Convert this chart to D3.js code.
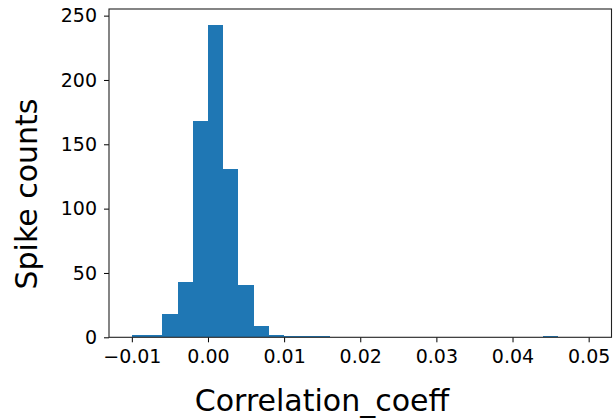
<!DOCTYPE html>
<html>
<head>
<meta charset="utf-8">
<script src="https://cdn.jsdelivr.net/npm/d3@7"></script>
<style>
  body { margin: 0; background: #fff; }
  svg { display: block; }
  text { font-family: "DejaVu Sans", sans-serif; fill: #000; }
</style>
</head>
<body>
<svg id="chart"></svg>
<script>
// histogram bin edges (left) and spike counts per bin
var binWidth = 0.002;
var binStarts = [-0.010, -0.008, -0.006, -0.004, -0.002, 0.000, 0.002, 0.004, 0.006, 0.008,
                 0.010, 0.012, 0.014, 0.016, 0.018, 0.020, 0.022, 0.024, 0.026, 0.028,
                 0.030, 0.032, 0.034, 0.036, 0.038, 0.040, 0.042, 0.044, 0.046, 0.048];
var counts = [2, 2, 18, 43, 168, 243, 131, 41, 9, 2,
              1, 1, 1, 0, 0, 0, 0, 0, 0, 0,
              0, 0, 0, 0, 0, 0, 0, 1, 0, 0];
var xTicks = [-0.01, 0.00, 0.01, 0.02, 0.03, 0.04, 0.05];
var yTicks = [0, 50, 100, 150, 200, 250];
var xLabel = "Correlation_coeff";
var yLabel = "Spike counts";

var width = 613;
var height = 419;
var margin = {top: 9, right: 1.5, bottom: 81.7, left: 109};

var svg = d3.select('#chart').attr('width', width).attr('height', height);

var bins = binStarts.map(function (s, i) { return {x0: s, x1: s + binWidth, count: counts[i]} });

// matplotlib-like 5% margins on x, top only on y
var xMin = d3.min(bins, function (b) { return b.x0 });
var xMax = d3.max(bins, function (b) { return b.x1 });
var pad = (xMax - xMin) * 0.05;
var x = d3.scaleLinear()
  .domain([xMin - pad, xMax + pad])
  .range([margin.left, width - margin.right]);

var yMax = d3.max(counts) * 1.05;
var y = d3.scaleLinear()
  .domain([0, yMax])
  .range([height - margin.bottom, margin.top]);

svg.append('g')
  .attr('shape-rendering', 'crispEdges')
  .selectAll('rect')
  .data(bins.filter(function (b) { return b.count > 0 }))
  .enter().append('rect')
    .attr('x', function (b) { return x(b.x0) })
    .attr('width', function (b) { return x(b.x1) - x(b.x0) })
    .attr('y', function (b) { return y(b.count) })
    .attr('height', function (b) { return y(0) - y(b.count) })
    .attr('fill', '#1f77b4')

var fmt = function (d) { return d3.format('.2f')(d).replace('-', '\u2212') };

var xAxis = svg.append('g')
  .attr('transform', 'translate(0,' + y(0) + ')')
  .call(d3.axisBottom(x).tickValues(xTicks).tickFormat(fmt).tickSize(5).tickPadding(7))
xAxis.select('.domain').remove()
xAxis.selectAll('text').attr('font-size', 19).attr('font-family', 'DejaVu Sans').attr('fill', '#000')
xAxis.selectAll('line').attr('stroke', '#000')

var yAxis = svg.append('g')
  .attr('transform', 'translate(' + margin.left + ',0)')
  .call(d3.axisLeft(y).tickValues(yTicks).tickSize(5).tickPadding(7))
yAxis.select('.domain').remove()
yAxis.selectAll('text').attr('font-size', 19).attr('font-family', 'DejaVu Sans').attr('fill', '#000')
yAxis.selectAll('line').attr('stroke', '#000')

// frame
svg.append('rect')
  .attr('x', margin.left)
  .attr('y', margin.top)
  .attr('width', width - margin.right - margin.left)
  .attr('height', y(0) - margin.top)
  .attr('fill', 'none')
  .attr('stroke', '#222')
  .attr('stroke-width', 1.1)

svg.append('text')
  .attr('x', 322)
  .attr('y', 411)
  .attr('text-anchor', 'middle')
  .attr('font-size', 30)
  .text(xLabel)

svg.append('text')
  .attr('transform', 'translate(37,194) rotate(-90)')
  .attr('text-anchor', 'middle')
  .attr('font-size', 30)
  .text(yLabel)
</script>
</body>
</html>
